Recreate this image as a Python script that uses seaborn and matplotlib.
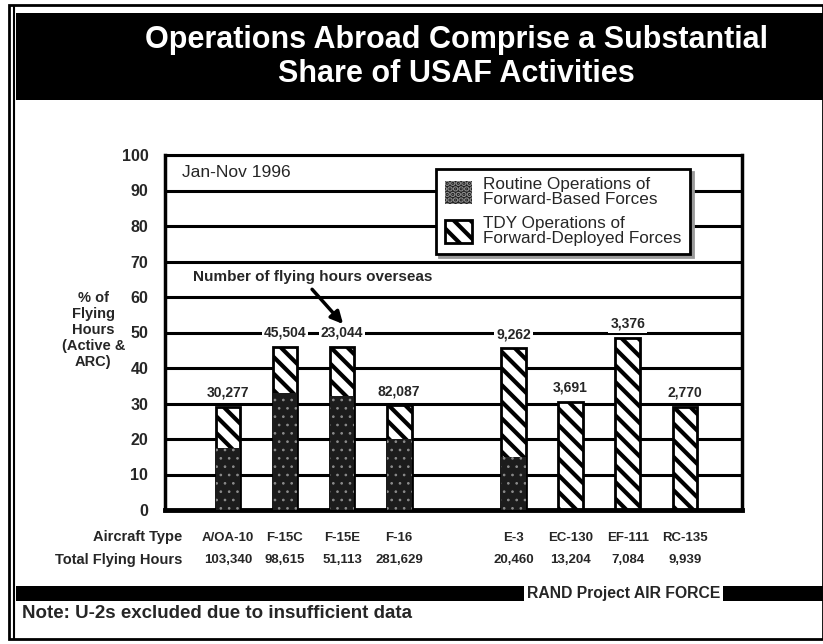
import numpy as np
import pandas as pd
import matplotlib
matplotlib.use("Agg")
import matplotlib.pyplot as plt
from matplotlib.patches import Patch, Rectangle
import seaborn as sns

# Jan-Nov 1996 flying hours, share flown overseas (% of active + ARC hours)
aircraft = ["A/OA-10", "F-15C", "F-15E", "F-16", "E-3", "EC-130", "EF-111", "RC-135"]
routine_pct = [17.5, 33, 32, 20, 15, 0, 0, 0]          # routine ops of forward-based forces
total_pct = [29, 46, 46, 29.5, 45.5, 30.5, 48.5, 29]    # routine + TDY (top of bar)
overseas_hours = [30277, 45504, 23044, 82087, 9262, 3691, 3376, 2770]
total_hours = [103340, 98615, 51113, 281629, 20460, 13204, 7084, 9939]
yticks = list(range(0, 101, 10))

df = pd.DataFrame({"aircraft": aircraft, "total": total_pct, "routine": routine_pct})
# empty slot between fighters and support aircraft
order = aircraft[:4] + [" "] + aircraft[4:]

sns.set_style("white")
plt.rcParams["font.family"] = ["Liberation Sans", "DejaVu Sans"]
plt.rcParams["hatch.linewidth"] = 3.0

W, H = 823, 644
fx = lambda px: px / W
fy = lambda py: 1 - py / H

fig = plt.figure(figsize=(W / 100, H / 100), dpi=100)
ax = fig.add_axes([fx(165), fy(510), fx(742) - fx(165), fy(155) - fy(510)])

# TDY bars go full height, routine bars are painted over the bottom part
sns.barplot(data=df, x="aircraft", y="total", order=order, width=0.43,
            color="white", edgecolor="black", linewidth=2, hatch="\\\\",
            saturation=1, errorbar=None, ax=ax, zorder=2)
with plt.rc_context({"hatch.linewidth": 0.7}):
    sns.barplot(data=df, x="aircraft", y="routine", order=order, width=0.43,
                color="#1c1c1c", edgecolor="#8c8c8c", linewidth=0, hatch="..",
                saturation=1, errorbar=None, ax=ax, zorder=3)

ax.set_xlim(-1.1, 9.0)
ax.set_ylim(0, 100)
ax.set_yticks(yticks)
ax.set_yticklabels([str(t) for t in yticks], fontsize=11.5, fontweight="bold")
ax.tick_params(axis="y", length=5, width=2, pad=7, color="black")
ax.grid(axis="y", color="black", linewidth=2.2)
ax.set_axisbelow(True)
for side, lw in [("left", 2.5), ("bottom", 3.5), ("top", 2.2), ("right", 2.5)]:
    ax.spines[side].set_linewidth(lw)
    ax.spines[side].set_color("black")

ax.set_xlabel("")
ax.set_ylabel("% of\nFlying\nHours\n(Active &\nARC)", rotation=0, fontsize=10.5,
              fontweight="bold", ha="center", va="center")
ax.yaxis.set_label_coords(-0.124, 0.507)

# aircraft type row (tick labels) and total hours row
ax.set_xticks(range(len(order)))
ax.set_xticklabels(order, fontsize=9.5, fontweight="bold")
ax.tick_params(axis="x", length=0, pad=15.5)
xt = ax.get_xaxis_transform()
for name, hrs in zip(aircraft, total_hours):
    ax.text(order.index(name), -0.141, f"{hrs:,}", transform=xt, ha="center",
            va="center", fontsize=9.5, fontweight="bold", clip_on=False)
fig.text(fx(182), fy(537), "Aircraft Type", ha="right", va="center",
         fontsize=10.5, fontweight="bold")
fig.text(fx(182), fy(560), "Total Flying Hours", ha="right", va="center",
         fontsize=10.5, fontweight="bold")

# overseas hour labels above the bars
for name, tot, ov in zip(aircraft, total_pct, overseas_hours):
    ax.text(order.index(name), tot + 4, f"{ov:,}", ha="center", va="center",
            fontsize=10, fontweight="bold", zorder=5,
            bbox=dict(facecolor="white", edgecolor="none", pad=1.5))

ax.text(0.03, 0.952, "Jan-Nov 1996", transform=ax.transAxes, ha="left",
        va="center", fontsize=12.5)
ax.text(-0.61, 65.6, "Number of flying hours overseas", ha="left", va="center",
        fontsize=11, fontweight="bold")
i_e = order.index("F-15E")
ax.annotate("", xy=(i_e + 0.05, total_pct[aircraft.index("F-15E")] + 5.8),
            xytext=(-25, 28), textcoords="offset points",
            arrowprops=dict(arrowstyle="-|>", lw=2.5, color="black",
                            mutation_scale=18))

with plt.rc_context({"hatch.linewidth": 0.7}):
    h_routine = Patch(facecolor="#1c1c1c", edgecolor="#8c8c8c", linewidth=0, hatch="...")
h_tdy = Patch(facecolor="white", edgecolor="black", linewidth=2, hatch="\\\\")
labels = ["Routine Operations of\nForward-Based Forces",
          "TDY Operations of\nForward-Deployed Forces"]
leg = ax.legend([h_routine, h_tdy], labels, loc="upper left",
                bbox_to_anchor=(0.47, 0.961),
                borderaxespad=0, frameon=True, fancybox=False,
                shadow={"color": "#999999", "alpha": 1}, fontsize=12.3,
                handlelength=1.6, handleheight=1.7, handletextpad=0.65,
                labelspacing=0.5, borderpad=0.5)
leg.get_frame().set_edgecolor("black")
leg.get_frame().set_linewidth(2)
leg.get_frame().set_facecolor("white")
leg.set_zorder(6)
for t in leg.get_texts():
    t.set_linespacing(1.0)

# page furniture: frame, title band, footer band, note
fig.add_artist(Rectangle((fx(9), fy(639)), fx(823) - fx(9), fy(5) - fy(639),
                         transform=fig.transFigure, facecolor="none",
                         edgecolor="black", linewidth=2))
fig.add_artist(Rectangle((fx(14), fy(639)), 0, fy(5) - fy(639),
                         transform=fig.transFigure, facecolor="none",
                         edgecolor="black", linewidth=1.5))
fig.add_artist(Rectangle((fx(16), fy(100)), fx(823) - fx(16), fy(13) - fy(100),
                         transform=fig.transFigure, facecolor="black",
                         edgecolor="none"))
fig.text(fx(456), fy(57), "Operations Abroad Comprise a Substantial\nShare of USAF Activities",
         color="white", ha="center", va="center", fontsize=22, fontweight="bold",
         linespacing=1.15)
fig.add_artist(Rectangle((fx(16), fy(601)), fx(823) - fx(16), fy(586) - fy(601),
                         transform=fig.transFigure, facecolor="black",
                         edgecolor="none"))
fig.text(fx(527), fy(593.5), "RAND Project AIR FORCE", ha="left", va="center",
         fontsize=11.3, fontweight="bold",
         bbox=dict(facecolor="white", edgecolor="none", pad=2))
fig.text(fx(22), fy(614), "Note: U-2s excluded due to insufficient data",
         ha="left", va="center", fontsize=13.5, fontweight="bold")

fig.savefig("out.png", dpi=100)
